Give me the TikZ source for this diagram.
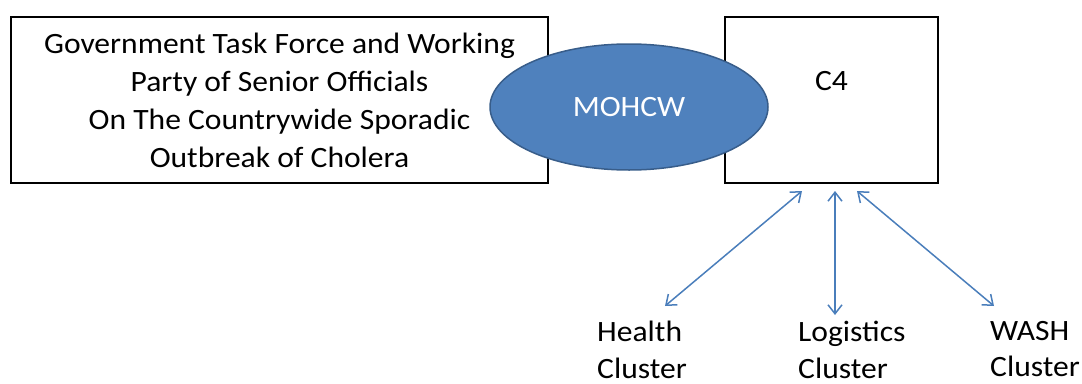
\documentclass[tikz,border=0pt]{standalone}
\usepackage{fontspec}
\setmainfont[FakeStretch=1.07]{Carlito}
\usetikzlibrary{shapes.geometric,arrows.meta}
\definecolor{ellfill}{HTML}{4F81BD}
\definecolor{elldraw}{HTML}{385D8A}
\definecolor{arrcol}{HTML}{4A7EBB}
\begin{document}
\begin{tikzpicture}[x=1pt,y=-1pt,
  every node/.style={font=\fontsize{29.5}{38}\selectfont, inner sep=0pt},
  plainbox/.style={draw=black, line width=1.2pt, rectangle},
  hub/.style={ellipse, draw=elldraw, line width=1.5pt, fill=ellfill, text=white},
  link/.style={draw=arrcol, line width=1.5pt, {Straight Barb[length=9pt,width=14pt]}-{Straight Barb[length=9pt,width=14pt]}},
  cluster/.style={align=left, anchor=north west, font=\fontsize{29.5}{36.5}\selectfont}]
\useasboundingbox (0,0) rectangle (1082,383);
\node[plainbox, minimum width=537pt, minimum height=166pt, align=center] (gov) at (279.5,100)
  {Government Task Force and Working\\Party of Senior Officials\\On The Countrywide Sporadic\\Outbreak of Cholera};
\node[plainbox, minimum width=213pt, minimum height=166pt, text height=19pt, text depth=39pt] (c4) at (831.5,100) {C4};
\node[hub, minimum width=278pt, minimum height=126pt] (moh) at (629,107) {MOHCW};
\node[cluster] (health) at (597,321) {Health\\Cluster};
\node[cluster] (logi) at (798,321) {Logistics\\Cluster};
\node[cluster] (wash) at (990,321) {WASH\\Cluster};
\coordinate (h1) at (802,191);
\coordinate (h2) at (665,306);
\coordinate (l1) at (835,191);
\coordinate (l2) at (835,315);
\coordinate (w1) at (857,191);
\coordinate (w2) at (994,306);
\draw[link] (h1) -- (h2);
\draw[link] (l1) -- (l2);
\draw[link] (w1) -- (w2);
\end{tikzpicture}
\end{document}
